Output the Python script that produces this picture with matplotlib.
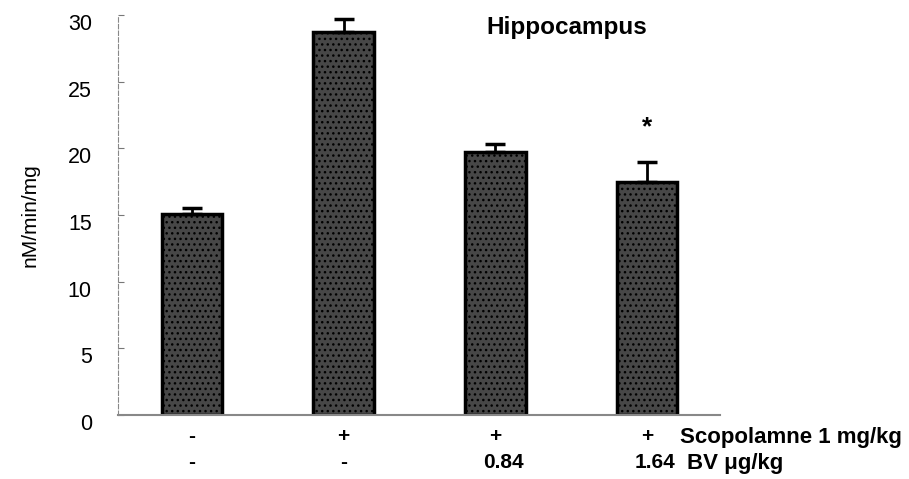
import matplotlib.pyplot as plt
from matplotlib import transforms

# data
groups = [0, 1, 2, 3]
means = [15.1, 28.7, 19.7, 17.5]
sem_up = [0.4, 1.0, 0.6, 1.5]
scop_labels = ["-", "+", "+", "+"]
bv_labels = ["-", "-", "0.84", "1.64"]
signif = ["", "", "", "*"]

plt.rcParams["hatch.color"] = "#9a9a9a"
plt.rcParams["hatch.linewidth"] = 1.0
base_font = ["Liberation Sans", "DejaVu Sans"]

fig = plt.figure(figsize=(9.09, 4.79), dpi=100)
ax = fig.add_axes([0.130, 0.1336, 0.662, 0.835])

ax.bar(groups, means, width=0.4, color="#474747", edgecolor="black",
       linewidth=2.5, hatch="...", zorder=2)
ax.errorbar(groups, means, yerr=[[0] * len(means), sem_up], fmt="none",
            ecolor="black", elinewidth=2, capsize=7, capthick=2.5, zorder=3)

for g, m, e, s in zip(groups, means, sem_up, signif):
    if s:
        ax.text(g, m + e + 2.6, s, ha="center", va="center", fontsize=19,
                fontweight="bold", family=base_font)

ax.set_xlim(-0.487, 3.48)
ax.set_ylim(0, 30)
ax.set_yticks(range(0, 31, 5))
ax.set_xticks([])
ax.tick_params(axis="y", direction="in", length=4, width=0.8, color="#777777",
               labelsize=15.5, pad=19)
shift = transforms.ScaledTranslation(0, -0.07, fig.dpi_scale_trans)
for lab in ax.get_yticklabels():
    lab.set_family(base_font)
    lab.set_transform(lab.get_transform() + shift)

ax.spines["top"].set_visible(False)
ax.spines["right"].set_visible(False)
ax.spines["left"].set_color("#888888")
ax.spines["left"].set_linewidth(0.8)
ax.spines["left"].set_linestyle((0, (4, 2)))
ax.spines["bottom"].set_color("#888888")
ax.spines["bottom"].set_linewidth(1.5)

ax.set_ylabel("nM/min/mg", fontsize=15, family=base_font, labelpad=20)

ax.text(2.47, 0.97, "Hippocampus", transform=ax.get_xaxis_transform(),
        ha="center", va="center", fontsize=17.5, fontweight="bold",
        family=base_font)

# two rows of treatment labels below the bars
trans = transforms.blended_transform_factory(ax.transData, fig.transFigure)
row1_y = 1 - 437 / 479
row2_y = 1 - 463 / 479
for g, a, b in zip(groups, scop_labels, bv_labels):
    ax.text(g, row1_y, a, transform=trans, ha="center", va="center",
            fontsize=15, fontweight="bold", family=base_font)
    dx = 0.05 if b != "-" else 0.0
    ax.text(g + dx, row2_y, b, transform=trans, ha="center", va="center",
            fontsize=15, fontweight="bold", family=base_font)
ax.text(3.22, row1_y, "Scopolamne 1 mg/kg", transform=trans, ha="left",
        va="center", fontsize=16, fontweight="bold", family=base_font)
ax.text(3.26, row2_y, "BV \u03bcg/kg", transform=trans, ha="left",
        va="center", fontsize=16, fontweight="bold", family=base_font)

fig.savefig("out.png", dpi=100)
